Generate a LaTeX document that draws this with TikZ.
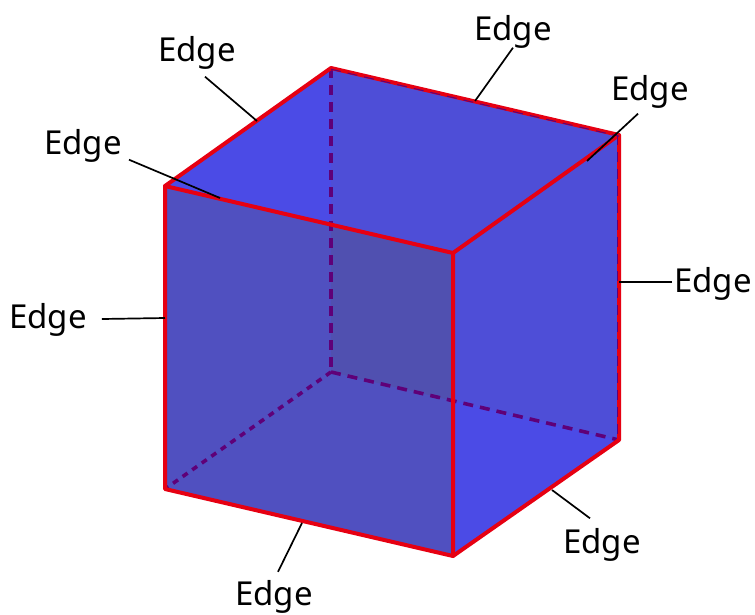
\documentclass[tikz,border=0pt]{standalone}
\usepackage{fontspec}
\setmainfont{Noto Sans}
\definecolor{topblue}{RGB}{75,75,230}
\definecolor{backblue}{RGB}{78,78,215}
\definecolor{frontblue}{RGB}{80,80,192}
\definecolor{bothblue}{RGB}{80,80,176}
\definecolor{edgered}{RGB}{230,0,18}
\definecolor{hiddenpurple}{RGB}{95,0,120}
\tikzset{
  edgelabel/.style={inner sep=0pt,font=\fontsize{33}{36}\selectfont,text=black},
  leader/.style={draw=black,line width=1.7pt},
  rededge/.style={draw=edgered,line width=4pt,line cap=round,line join=round},
  hidden/.style={draw=hiddenpurple,line width=3.6pt,dash pattern=on 10pt off 7pt},
  hiddenshort/.style={draw=hiddenpurple,line width=3.6pt,dash pattern=on 6pt off 5.7pt},
  hiddenfaint/.style={draw=hiddenpurple,line width=1pt,dash pattern=on 10pt off 7pt}
}
\begin{document}
\begin{tikzpicture}[x=1pt,y=-1pt]
\useasboundingbox (0,0) rectangle (755,614);
% cube corners
\coordinate (A) at (165,186);
\coordinate (B) at (453,253);
\coordinate (C) at (453,556);
\coordinate (D) at (165,489);
\coordinate (E) at (331,68);
\coordinate (F) at (619,135);
\coordinate (G) at (619,440);
\coordinate (H) at (331,372);
% faces
\fill[topblue] (A) -- (E) -- (F) -- (G) -- (C) -- (D) -- cycle;
\fill[backblue] (E) -- (F) -- (G) -- (H) -- cycle;
\fill[frontblue] (A) -- (B) -- (C) -- (D) -- cycle;
\begin{scope}
  \clip (E) -- (F) -- (G) -- (H) -- cycle;
  \fill[bothblue] (A) -- (B) -- (C) -- (D) -- cycle;
\end{scope}
% hidden edges
\draw[hidden] (E) -- (H);
\draw[hiddenshort] (H) -- (D);
\draw[hidden] (H) -- (G);
% visible edges
\draw[rededge] (A) -- (E) -- (F) -- (G) -- (C) -- (D) -- cycle;
\draw[rededge] (A) -- (B) -- (C);
\draw[rededge] (B) -- (F);
\draw[hiddenfaint,transform canvas={yshift=-1.2pt}] (E) -- (F);
\draw[hiddenfaint,transform canvas={xshift=-1.8pt}] (F) -- (G);
% labels
\node[edgelabel] (l1) at (197,53) {Edge};
\node[edgelabel] (l2) at (83,146) {Edge};
\node[edgelabel] (l3) at (513,32) {Edge};
\node[edgelabel] (l4) at (650,92) {Edge};
\node[edgelabel] (l5) at (713,284) {Edge};
\node[edgelabel] (l6) at (48,320) {Edge};
\node[edgelabel] (l7) at (602,545) {Edge};
\node[edgelabel] (l8) at (274,596.5) {Edge};
% leader ends on the edges
\coordinate (c1) at (257,121);
\coordinate (c2) at (220,198);
\coordinate (c3) at (475,101);
\coordinate (c4) at (587,161);
\coordinate (c5) at (619,282);
\coordinate (c6) at (165,318);
\coordinate (c7) at (552,490);
\coordinate (c8) at (302,523);
\draw[leader] ([shift={(8,7)}]l1.south) -- (c1);
\draw[leader] ([shift={(46,-3)}]l2.south) -- (c2);
\draw[leader] ([shift={(0,-1)}]l3.south) -- (c3);
\draw[leader] ([shift={(-12,5)}]l4.south) -- (c4);
\draw[leader] ([shift={(-2,-2)}]l5.west) -- (c5);
\draw[leader] ([shift={(15,-1)}]l6.east) -- (c6);
\draw[leader] ([shift={(-12,-10)}]l7.north) -- (c7);
\draw[leader] ([shift={(4,-8)}]l8.north) -- (c8);
\end{tikzpicture}
\end{document}
